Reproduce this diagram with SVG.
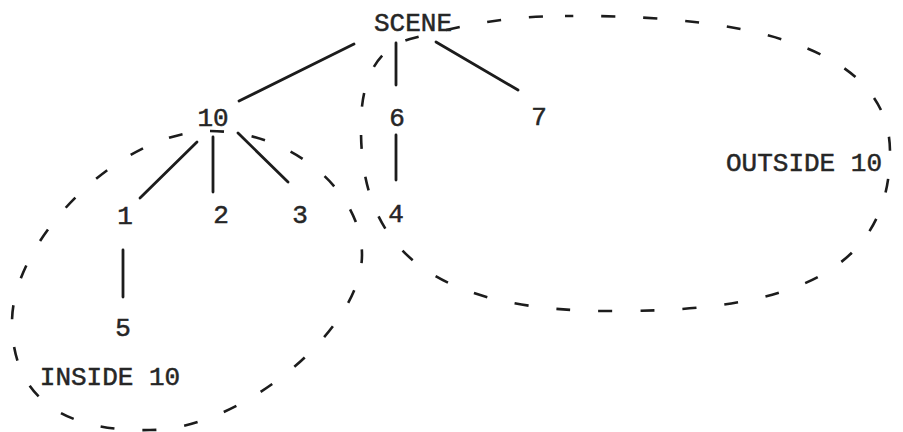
<svg xmlns="http://www.w3.org/2000/svg" width="903" height="432" viewBox="0 0 903 432">
  <style>
    .bg { fill: #ffffff; }
    .lbl { font-family: "Liberation Mono", "Courier New", monospace; font-size: 26px; fill: #262626; stroke: #262626; stroke-width: 0.5; text-anchor: middle; }
    .edge { stroke: #1c1c1c; stroke-width: 2.8; stroke-linecap: round; fill: none; }
    .region { stroke: #1c1c1c; stroke-width: 2.6; fill: none; stroke-dasharray: 14 28; stroke-linecap: butt; }
  </style>
  <rect class="bg" x="0" y="0" width="903" height="432"/>

  <!-- dashed regions -->
  <g id="regions">
    <path id="inside-10" class="region" d="M210,131 C290,131 362,190 362,255 C362,330 240,430 150,430 C60,432 12,395 12,322 C12,240 120,131 210,131 Z"/>
    <path id="outside-10" class="region" stroke-dashoffset="20" d="M565,16 C500,16 452,28 410,39 C380,47 360,75 361,130 C361,255 440,313 620,311 C790,311 890,272 890,152 C890,60 780,14 565,16 Z"/>
  </g>

  <!-- tree edges -->
  <g id="connectors">
    <line class="edge" x1="354" y1="44" x2="239" y2="101"/>
    <line class="edge" x1="396" y1="43" x2="396" y2="85"/>
    <line class="edge" x1="436" y1="42" x2="518" y2="90"/>
    <line class="edge" x1="197" y1="142" x2="140" y2="198"/>
    <line class="edge" x1="213" y1="137" x2="213" y2="192"/>
    <line class="edge" x1="238" y1="133" x2="288" y2="182"/>
    <line class="edge" x1="396" y1="135" x2="396" y2="180"/>
    <line class="edge" x1="123" y1="250" x2="123" y2="297"/>
  </g>

  <!-- nodes -->
  <g id="node-scene"><text class="lbl" x="413" y="31">SCENE</text></g>
  <g id="node-10"><text class="lbl" x="213" y="126">10</text></g>
  <g id="node-6"><text class="lbl" x="397" y="126">6</text></g>
  <g id="node-7"><text class="lbl" x="539" y="125">7</text></g>
  <g id="node-1"><text class="lbl" x="125" y="224">1</text></g>
  <g id="node-2"><text class="lbl" x="221" y="223">2</text></g>
  <g id="node-3"><text class="lbl" x="300" y="223">3</text></g>
  <g id="node-4"><text class="lbl" x="396" y="222">4</text></g>
  <g id="node-5"><text class="lbl" x="123" y="336">5</text></g>

  <!-- region captions -->
  <g id="caption-inside"><text class="lbl" x="110" y="385">INSIDE 10</text></g>
  <g id="caption-outside"><text class="lbl" x="804" y="171">OUTSIDE 10</text></g>
</svg>
